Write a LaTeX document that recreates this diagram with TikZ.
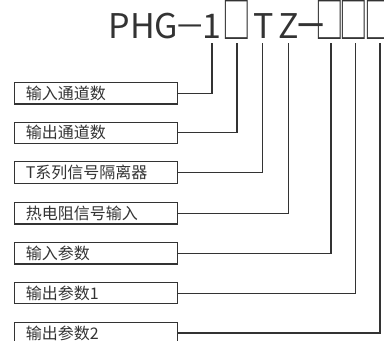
\documentclass[tikz,border=0pt]{standalone}
\usepackage{fontspec}
\setmainfont{Noto Sans CJK SC}
\usepackage{graphicx}
\definecolor{ink}{HTML}{333333}
\newcommand{\tofuglyph}{\makebox[15pt]{\scalebox{0.84}[1.45]{□}}}
\begin{document}
\begin{tikzpicture}[x=1pt,y=-1pt,
  conn/.style={draw=ink,line width=1.1pt},
  lbl/.style={draw=ink,line width=1.1pt,minimum width=162.7pt,minimum height=21.3pt,
    text width=140pt,inner xsep=11.3pt,inner ysep=0pt,align=left,
    font=\fontsize{16}{17}\selectfont,text=ink},
  ttl/.style={anchor=base,inner sep=0pt,font=\fontsize{34}{36}\selectfont,text=ink}]
\useasboundingbox (0,0) rectangle (384,341);
\clip (0,0) rectangle (384,341);
% title
\node[ttl] (g1) at (143.4,38.3) {PHG};
\node[ttl] (g2) at (190,38.3) {\makebox[15pt]{\scalebox{1.5}[1]{\raisebox{3pt}{–}}}};
\node[ttl] (g3) at (212.4,38.3) {1};
\node[ttl] (g4) at (236.5,38.3) {\tofuglyph};
\node[ttl] (g5) at (264,38.3) {T};
\node[ttl] (g6) at (289,38.3) {Z};
\node[ttl] (g7) at (311,38.3) {\makebox[16pt]{\scalebox{1.6}[1.4]{–}}};
\node[ttl] (g8) at (330,38.3) {\tofuglyph};
\node[ttl] (g9) at (354,38.3) {\tofuglyph};
\node[ttl] (g10) at (378.5,38.3) {\tofuglyph};
% tap points
\coordinate (t1) at (212,43);
\coordinate (t2) at (237,43);
\coordinate (t3) at (262.7,43);
\coordinate (t4) at (288.3,43);
\coordinate (t5) at (331,43);
\coordinate (t6) at (355.5,43);
\coordinate (t7) at (380,43);
% labels
\node[lbl,anchor=west] (b1) at (14,93.3) {输入通道数};
\node[lbl,anchor=west] (b2) at (14,132.8) {输出通道数};
\node[lbl,anchor=west] (b3) at (14,172.5) {T系列信号隔离器};
\node[lbl,anchor=west] (b4) at (14,213.3) {热电阻信号输入};
\node[lbl,anchor=west] (b5) at (14,253.3) {输入参数};
\node[lbl,anchor=west] (b6) at (14,293.2) {输出参数1};
\node[lbl,anchor=west] (b7) at (14,333) {输出参数2};
% connectors
\draw[conn] (b1.east) -| (t1);
\draw[conn] (b2.east) -| (t2);
\draw[conn] (b3.east) -| (t3);
\draw[conn] (b4.east) -| (t4);
\draw[conn] (b5.east) -| (t5);
\draw[conn] (b6.east) -| (t6);
\draw[conn] (b7.east) -| (t7);
\end{tikzpicture}
\end{document}
